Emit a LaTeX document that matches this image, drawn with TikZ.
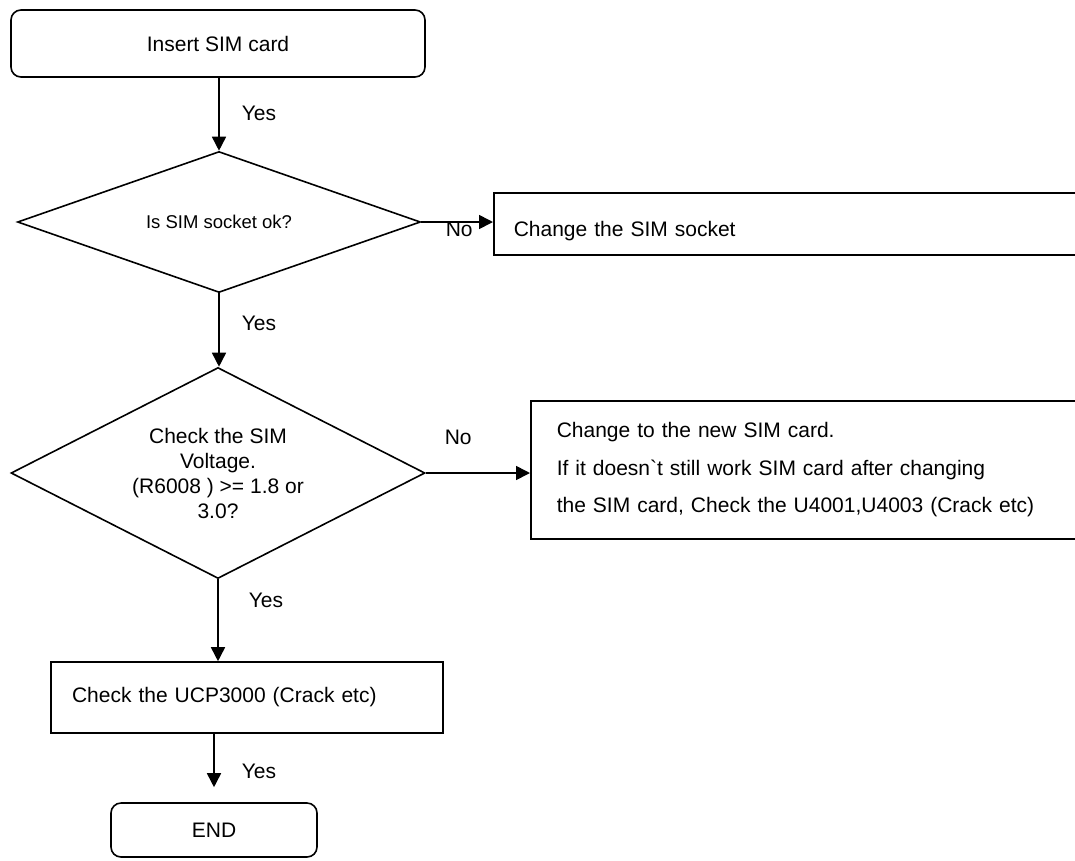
\documentclass[tikz,border=0pt]{standalone}
\usepackage{fontspec}
\setmainfont{Liberation Sans}
\usetikzlibrary{shapes.geometric,arrows.meta}
\begin{document}
\begin{tikzpicture}[x=1pt,y=-1pt,
  line width=1.6pt,
  txt/.style={font=\fontsize{21}{25}\selectfont},
  term/.style={draw,rounded corners=10pt,txt,inner sep=0pt},
  box/.style={draw,txt,inner ysep=0pt,align=left},
  dec/.style={draw,diamond,aspect=2,inner sep=0pt,align=center},
  flow/.style={-{Triangle[length=14pt,width=14pt]}},
  lbl/.style={txt,anchor=west,inner sep=0pt}]
\useasboundingbox (0,0) rectangle (1075,860);
\clip (0,0) rectangle (1075,860);

\node[term,minimum width=414pt,minimum height=67pt] (start) at (218,43.5) {Insert SIM card};
\node[dec,minimum width=403pt,minimum height=141pt,font=\fontsize{18.5}{22}\selectfont] (d1) at (219,222) {Is SIM socket ok?};
\node[box,anchor=west,inner xsep=20pt,text width=560pt,minimum height=62pt] (socket) at (493,224) {\raisebox{-7pt}[\height][\depth]{Change the SIM socket}};
\node[dec,minimum width=414pt,minimum height=211pt,txt] (d2) at (218,473) {Check the SIM\\Voltage.\\(R6008 ) >= 1.8 or\\3.0?};
\node[box,anchor=west,inner xsep=26pt,text width=600pt,minimum height=138pt,font=\fontsize{21}{37.5}\selectfont] (newsim) at (530,470) {Change to the new SIM card.\\If it doesn\textasciigrave t still work SIM card after changing\\the SIM card, Check the U4001,U4003 (Crack etc)};
\node[box,inner xsep=21pt,text width=350pt,minimum height=71pt] (ucp) at (247,697.5) {Check the UCP3000 (Crack etc)};
\node[term,minimum width=206pt,minimum height=54pt] (end) at (214,830) {END};

\draw[flow] (start.south -| d1.north) -- (d1.north);
\draw[flow] (d1.east) -- (d1.east -| socket.west);
\draw[flow] (d1.south) -- (d1.south |- d2.north);
\draw[flow] (d2.east) -- (d2.east -| newsim.west);
\draw[flow] (d2.south) -- (d2.south |- ucp.north);
\draw[flow,shorten >=15pt] (end.north |- ucp.south) -- (end.north);

\node[lbl] (y1) at (241,113) {Yes};
\node[lbl] (n1) at (445,229) {No};
\node[lbl] (y2) at (241,323) {Yes};
\node[lbl] (n2) at (444,437) {No};
\node[lbl] (y3) at (248,600) {Yes};
\node[lbl] (y4) at (241,771) {Yes};
\end{tikzpicture}
\end{document}
